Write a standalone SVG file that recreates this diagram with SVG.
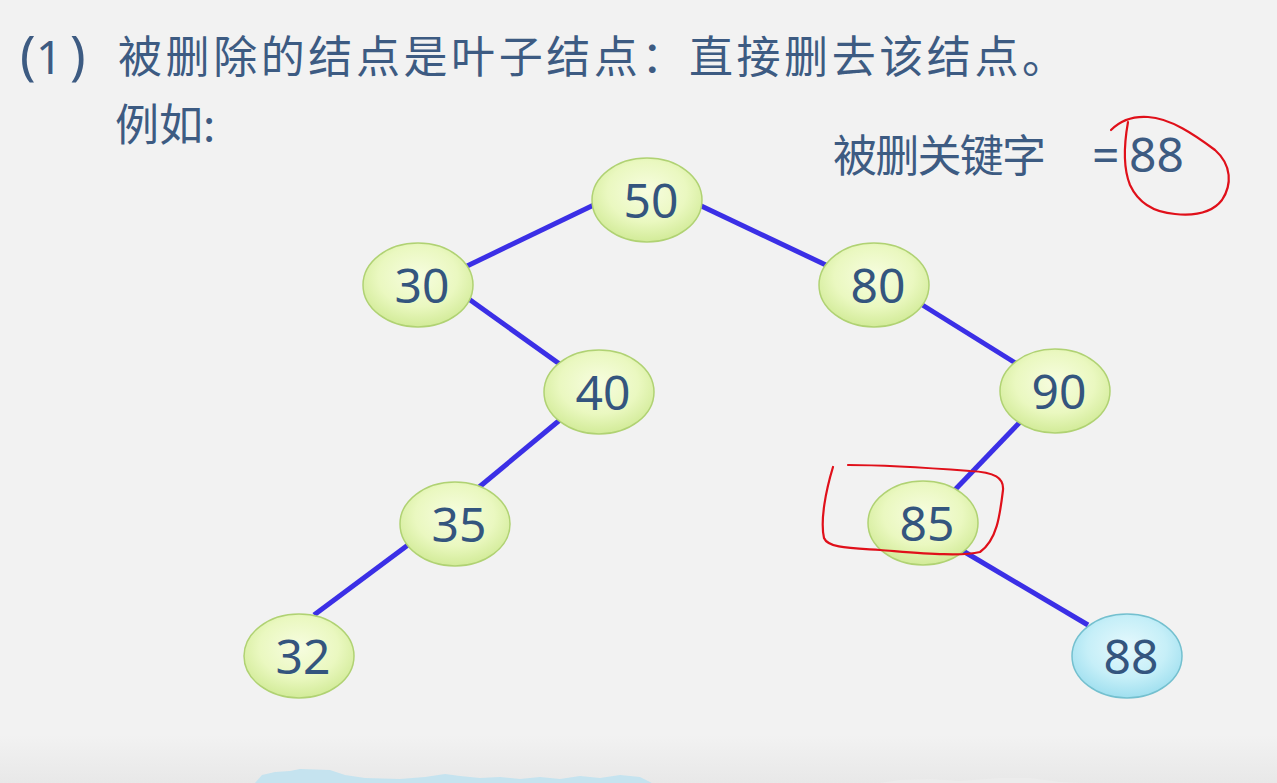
<svg xmlns="http://www.w3.org/2000/svg" width="1277" height="783" viewBox="0 0 1277 783">
<defs>
<radialGradient id="gg" cx="50%" cy="40%" r="60%">
<stop offset="0" stop-color="#f7fde0"/>
<stop offset="0.6" stop-color="#eaf8c0"/>
<stop offset="1" stop-color="#d2eb98"/>
</radialGradient>
<radialGradient id="gb" cx="50%" cy="40%" r="60%">
<stop offset="0" stop-color="#e6f9fd"/>
<stop offset="0.6" stop-color="#c6eff8"/>
<stop offset="1" stop-color="#9fdfef"/>
</radialGradient>
<linearGradient id="bot" x1="0" y1="0" x2="0" y2="1">
<stop offset="0" stop-color="#f2f2f2"/>
<stop offset="1" stop-color="#e8e8e8"/>
</linearGradient>
</defs>
<style>
.t{font-family:"Noto Sans CJK SC","Noto Sans",sans-serif;font-size:44px;fill:#3d5b82}
.d{font-family:"Noto Sans","Open Sans",sans-serif;font-size:48px;fill:#3d5b82}
.n{font-family:"Noto Sans","Open Sans",sans-serif;font-size:48px;fill:#34557e;text-anchor:middle}
.g{fill:url(#gg);stroke:#b0d273;stroke-width:1.5}
.b{fill:url(#gb);stroke:#74c0cf;stroke-width:1.5}
.e{stroke:#3b2fe6;stroke-width:5;fill:none}
.r{stroke:#e0101a;stroke-width:2.2;fill:none;stroke-linecap:round;stroke-linejoin:round}
</style>
<rect width="1277" height="783" fill="#f2f2f2"/>
<rect y="735" width="1277" height="48" fill="url(#bot)"/>
<path d="M255,783 L262,775 L275,772 L290,771 L300,769 L330,770 L345,775 L365,778 L400,779 L425,777 L445,774 L460,776 L480,778 L500,777 L520,779 L540,777 L560,779 L580,776 L600,778 L620,775 L640,777 L652,783 Z" fill="#c5e3ef"/>
<path d="M880,783 L900,780 L930,779 L960,781 L1000,778 L1030,778 L1060,782 L1080,783 Z" fill="#ececec"/>
<text class="d" x="20 36 70" y="74" style="font-size:46px"><tspan style="font-size:52px">(</tspan>1<tspan x="70" style="font-size:52px">)</tspan></text>
<text class="t" x="118" y="73" textLength="948" lengthAdjust="spacing">被删除的结点是叶子结点：直接删去该结点。</text>
<text class="t" x="115" y="141">例如:</text>
<text class="t" x="833" y="172"><tspan textLength="213" lengthAdjust="spacing">被删关键字</tspan> <tspan x="1092" class="d">=</tspan><tspan x="1129" class="d">88</tspan></text>
<g id="connectors">
<line class="e" x1="600" y1="202" x2="465" y2="267"/>
<line class="e" x1="695" y1="203" x2="828" y2="266"/>
<line class="e" x1="466" y1="297" x2="561" y2="365"/>
<line class="e" x1="561" y1="419" x2="478" y2="488"/>
<line class="e" x1="412" y1="542" x2="314" y2="615"/>
<line class="e" x1="916" y1="301" x2="1017" y2="364"/>
<line class="e" x1="1021" y1="421" x2="950" y2="495"/>
<line class="e" x1="963" y1="551" x2="1088" y2="625"/>
</g>
<g id="n50"><ellipse class="g" cx="647" cy="200" rx="55" ry="42"/><text class="n" x="651" y="218">50</text></g>
<g id="n30"><ellipse class="g" cx="418" cy="285" rx="55" ry="42"/><text class="n" x="422" y="303">30</text></g>
<g id="n80"><ellipse class="g" cx="874" cy="285" rx="55" ry="42"/><text class="n" x="878" y="303">80</text></g>
<g id="n40"><ellipse class="g" cx="599" cy="392" rx="55" ry="42"/><text class="n" x="603" y="410">40</text></g>
<g id="n90"><ellipse class="g" cx="1055" cy="391" rx="55" ry="42"/><text class="n" x="1059" y="409">90</text></g>
<g id="n35"><ellipse class="g" cx="455" cy="524" rx="55" ry="42"/><text class="n" x="459" y="542">35</text></g>
<g id="n85"><ellipse class="g" cx="923" cy="523" rx="55" ry="42"/><text class="n" x="927" y="541">85</text></g>
<g id="n32"><ellipse class="g" cx="299" cy="656" rx="55" ry="42"/><text class="n" x="303" y="674">32</text></g>
<g id="n88"><ellipse class="b" cx="1127" cy="656" rx="55" ry="42"/><text class="n" x="1131" y="674">88</text></g>
<path class="r" d="M1111,130 C1120,121 1133,116 1148,117 C1170,118 1195,135 1215,150 C1232,165 1232,185 1222,200 C1212,213 1195,216 1175,214 C1150,212 1137,200 1130,185 C1124,170 1123,150 1128,122"/>
<path class="r" d="M833,467 C826,490 820,520 824,538 C828,548 850,548 880,550 C920,553 960,557 980,552 C997,540 1000,515 1003,490 C1004,478 995,472 970,471 C930,468 880,465 848,465"/>
</svg>
